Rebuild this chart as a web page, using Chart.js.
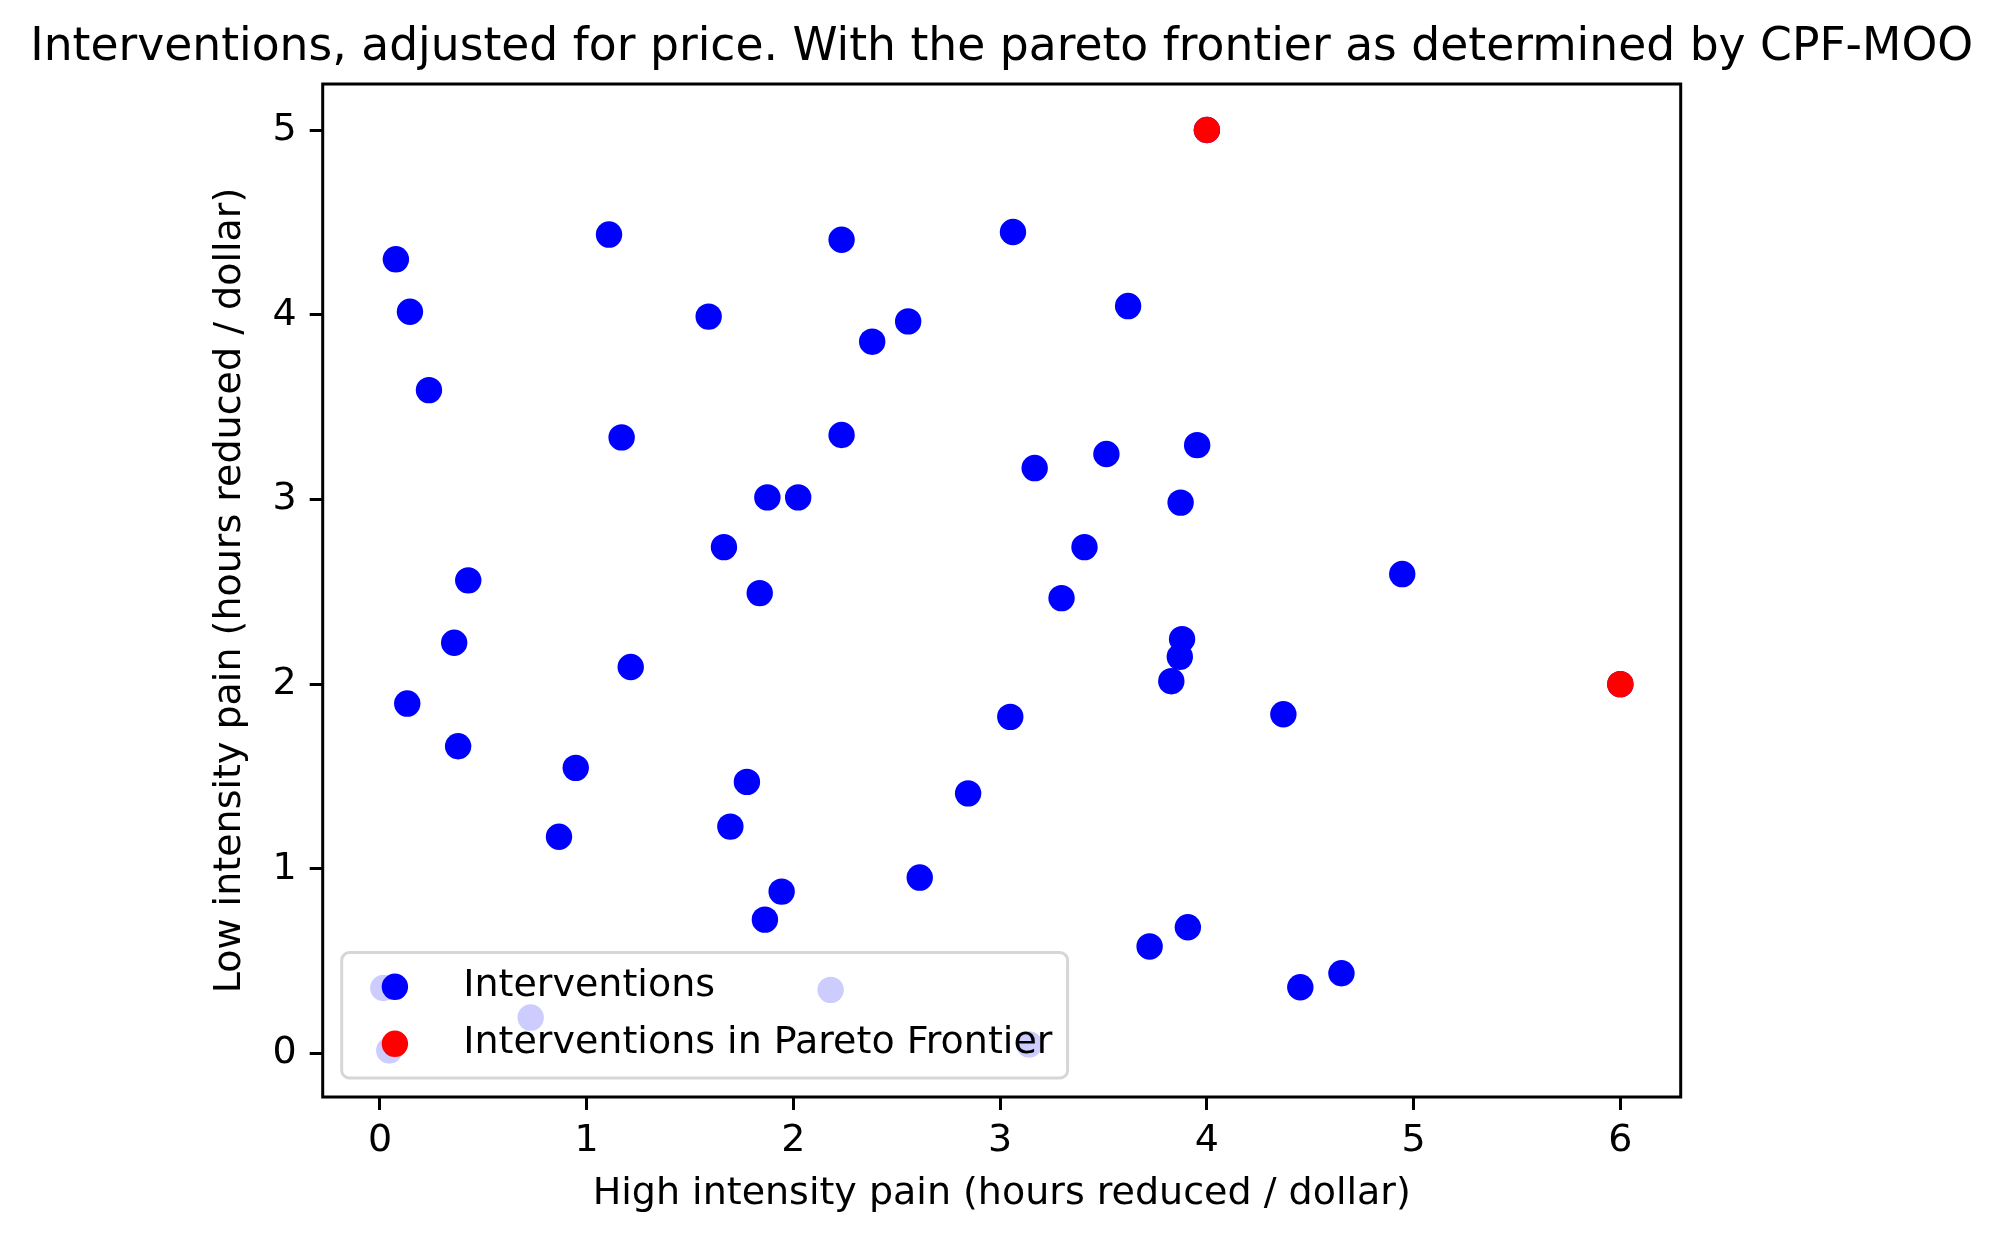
<!DOCTYPE html>
<html>
<head>
<meta charset="utf-8">
<script src="https://cdn.jsdelivr.net/npm/chart.js@4.4.1/dist/chart.umd.min.js"></script>
<style>
  html, body { margin: 0; padding: 0; background: #fff; }
  canvas { display: block; }
</style>
</head>
<body>
<canvas id="paretoChart" width="2000" height="1241"></canvas>
<script>
// tick labels
var xTicks = [0, 1, 2, 3, 4, 5, 6];
var yTicks = [0, 1, 2, 3, 4, 5];

// all interventions (high intensity, low intensity)
var interventionsX = [0.077, 0.145, 0.237, 1.108, 1.59, 2.233, 2.381, 2.555, 3.062, 3.619,
                      1.169, 2.233, 1.874, 2.023, 3.167, 3.514, 3.953, 3.873, 1.664, 3.408,
                      1.837, 3.297, 4.945, 0.427, 0.359, 1.213, 0.132, 3.88, 3.869, 3.828,
                      3.049, 4.37, 0.378, 0.947, 1.775, 2.845, 0.866, 1.695, 2.611, 1.943,
                      1.862, 3.723, 3.908, 4.452, 4.651, 0.016, 0.045, 0.729, 2.18, 3.14,
                      4.0, 6.0];
var interventionsY = [4.30, 4.016, 3.592, 4.434, 3.99, 4.406, 3.854, 3.964, 4.448, 4.047,
                      3.336, 3.349, 3.011, 3.011, 3.17, 3.246, 3.294, 2.983, 2.742, 2.742,
                      2.493, 2.466, 2.596, 2.562, 2.224, 2.093, 1.895, 2.244, 2.148, 2.016,
                      1.823, 1.837, 1.664, 1.547, 1.471, 1.409, 1.174, 1.229, 0.953, 0.877,
                      0.725, 0.58, 0.684, 0.359, 0.435, 0.355, 0.017, 0.195, 0.345, 0.05,
                      5.0, 2.0];

// pareto frontier
var paretoX = [4.0, 6.0];
var paretoY = [5.0, 2.0];

function toPoints(xs, ys) {
    var pts = [];
    for (var i = 0; i < xs.length; i++) {
        pts.push({ x: xs[i], y: ys[i] });
    }
    return pts;
}

Chart.defaults.font.family = "'DejaVu Sans'";
Chart.defaults.color = '#000';

// matplotlib style box round the axes
var framePlugin = {
    id: 'frame',
    afterDraw: function (chart) {
        var a = chart.chartArea, ctx = chart.ctx;
        ctx.save();
        ctx.lineWidth = 3;
        ctx.strokeStyle = '#000';
        ctx.strokeRect(a.left, a.top, a.right - a.left, a.bottom - a.top);
        ctx.restore();
    }
};

// legend inside the plot, lower left, drawn over the points
var boxLegend = {
    id: 'boxLegend',
    afterDraw: function (chart) {
        var a = chart.chartArea, ctx = chart.ctx;
        var fs = 38;
        var pad = 0.4 * fs, handle = 2 * fs, gap = 0.8 * fs, spacing = 0.5 * fs, row = fs;
        var sets = chart.data.datasets;
        ctx.save();
        ctx.font = fs + 'px "DejaVu Sans"';
        var tw = 0;
        sets.forEach(function (d) { tw = Math.max(tw, ctx.measureText(d.label).width); });
        var w = pad * 2 + handle + gap + tw;
        var h = pad * 2 + sets.length * row + (sets.length - 1) * spacing;
        var left = a.left + 0.5 * fs;
        var top = a.bottom - 0.5 * fs - h;
        ctx.beginPath();
        ctx.roundRect(left, top, w, h, 0.2 * fs);
        ctx.fillStyle = 'rgba(255,255,255,0.8)';
        ctx.fill();
        ctx.lineWidth = 3;
        ctx.strokeStyle = 'rgba(204,204,204,0.8)';
        ctx.stroke();
        sets.forEach(function (d, i) {
            var cy = top + pad + row / 2 + i * (row + spacing);
            ctx.beginPath();
            ctx.arc(left + pad + handle / 2, cy, d.pointRadius, 0, Math.PI * 2);
            ctx.fillStyle = d.backgroundColor;
            ctx.fill();
            ctx.fillStyle = '#000';
            ctx.textAlign = 'left';
            ctx.textBaseline = 'alphabetic';
            ctx.fillText(d.label, left + pad + handle + gap, cy + 0.23 * fs);
        });
        ctx.restore();
    }
};

var ctx = document.getElementById('paretoChart').getContext('2d');
var paretoChart = new Chart(ctx, {
    type: 'scatter',
    data: {
        datasets: [{
            label: 'Interventions',
            data: toPoints(interventionsX, interventionsY),
            backgroundColor: '#0000ff',
            borderWidth: 0,
            pointRadius: 13.2,
            pointHoverRadius: 13.2,
            order: 2
        }, {
            label: 'Interventions in Pareto Frontier',
            data: toPoints(paretoX, paretoY),
            backgroundColor: '#ff0000',
            borderWidth: 0,
            pointRadius: 13.2,
            pointHoverRadius: 13.2,
            order: 1
        }]
    },
    options: {
        responsive: false,
        devicePixelRatio: 1,
        animation: false,
        layout: {
            padding: { left: 3.4, right: 0, top: 0, bottom: 0 }
        },
        scales: {
            x: {
                type: 'linear',
                position: 'bottom',
                min: -0.277,
                max: 6.292,
                afterBuildTicks: function (scale) {
                    scale.ticks = xTicks.map(function (v) { return { value: v }; });
                },
                afterFit: function (scale) { scale.height = 144; },
                border: { display: false },
                grid: {
                    drawOnChartArea: false,
                    drawTicks: true,
                    tickLength: 13,
                    tickWidth: 3,
                    tickColor: '#000',
                    color: '#000'
                },
                ticks: {
                    padding: 8,
                    font: { size: 38 },
                    color: '#000',
                    maxRotation: 0
                },
                title: {
                    display: true,
                    text: 'High intensity pain (hours reduced / dollar)',
                    font: { size: 38 },
                    color: '#000',
                    padding: { top: 0, bottom: 23.7 }
                }
            },
            y: {
                type: 'linear',
                position: 'left',
                min: -0.235,
                max: 5.249,
                afterBuildTicks: function (scale) {
                    scale.ticks = yTicks.map(function (v) { return { value: v }; });
                },
                afterFit: function (scale) { scale.width = 319.3; },
                border: { display: false },
                grid: {
                    drawOnChartArea: false,
                    drawTicks: true,
                    tickLength: 13,
                    tickWidth: 3,
                    tickColor: '#000',
                    color: '#000'
                },
                ticks: {
                    padding: 13,
                    font: { size: 38 },
                    color: '#000'
                },
                title: {
                    display: true,
                    text: 'Low intensity pain (hours reduced / dollar)',
                    font: { size: 38 },
                    color: '#000',
                    padding: { top: 204, bottom: 0 }
                }
            },
            // empty right-hand space, keeps the title centred over the axes
            yRight: {
                type: 'linear',
                position: 'right',
                display: true,
                afterFit: function (scale) { scale.width = 319.3; },
                border: { display: false },
                grid: { display: false },
                ticks: { display: false }
            }
        },
        plugins: {
            legend: { display: false },
            tooltip: { enabled: false },
            title: {
                display: true,
                text: 'Interventions, adjusted for price. With the pareto frontier as determined by CPF-MOO',
                font: { size: 45.6, weight: 'normal' },
                color: '#000',
                padding: { top: 20.5, bottom: 8.8 }
            }
        }
    },
    plugins: [framePlugin, boxLegend]
});
</script>
</body>
</html>
